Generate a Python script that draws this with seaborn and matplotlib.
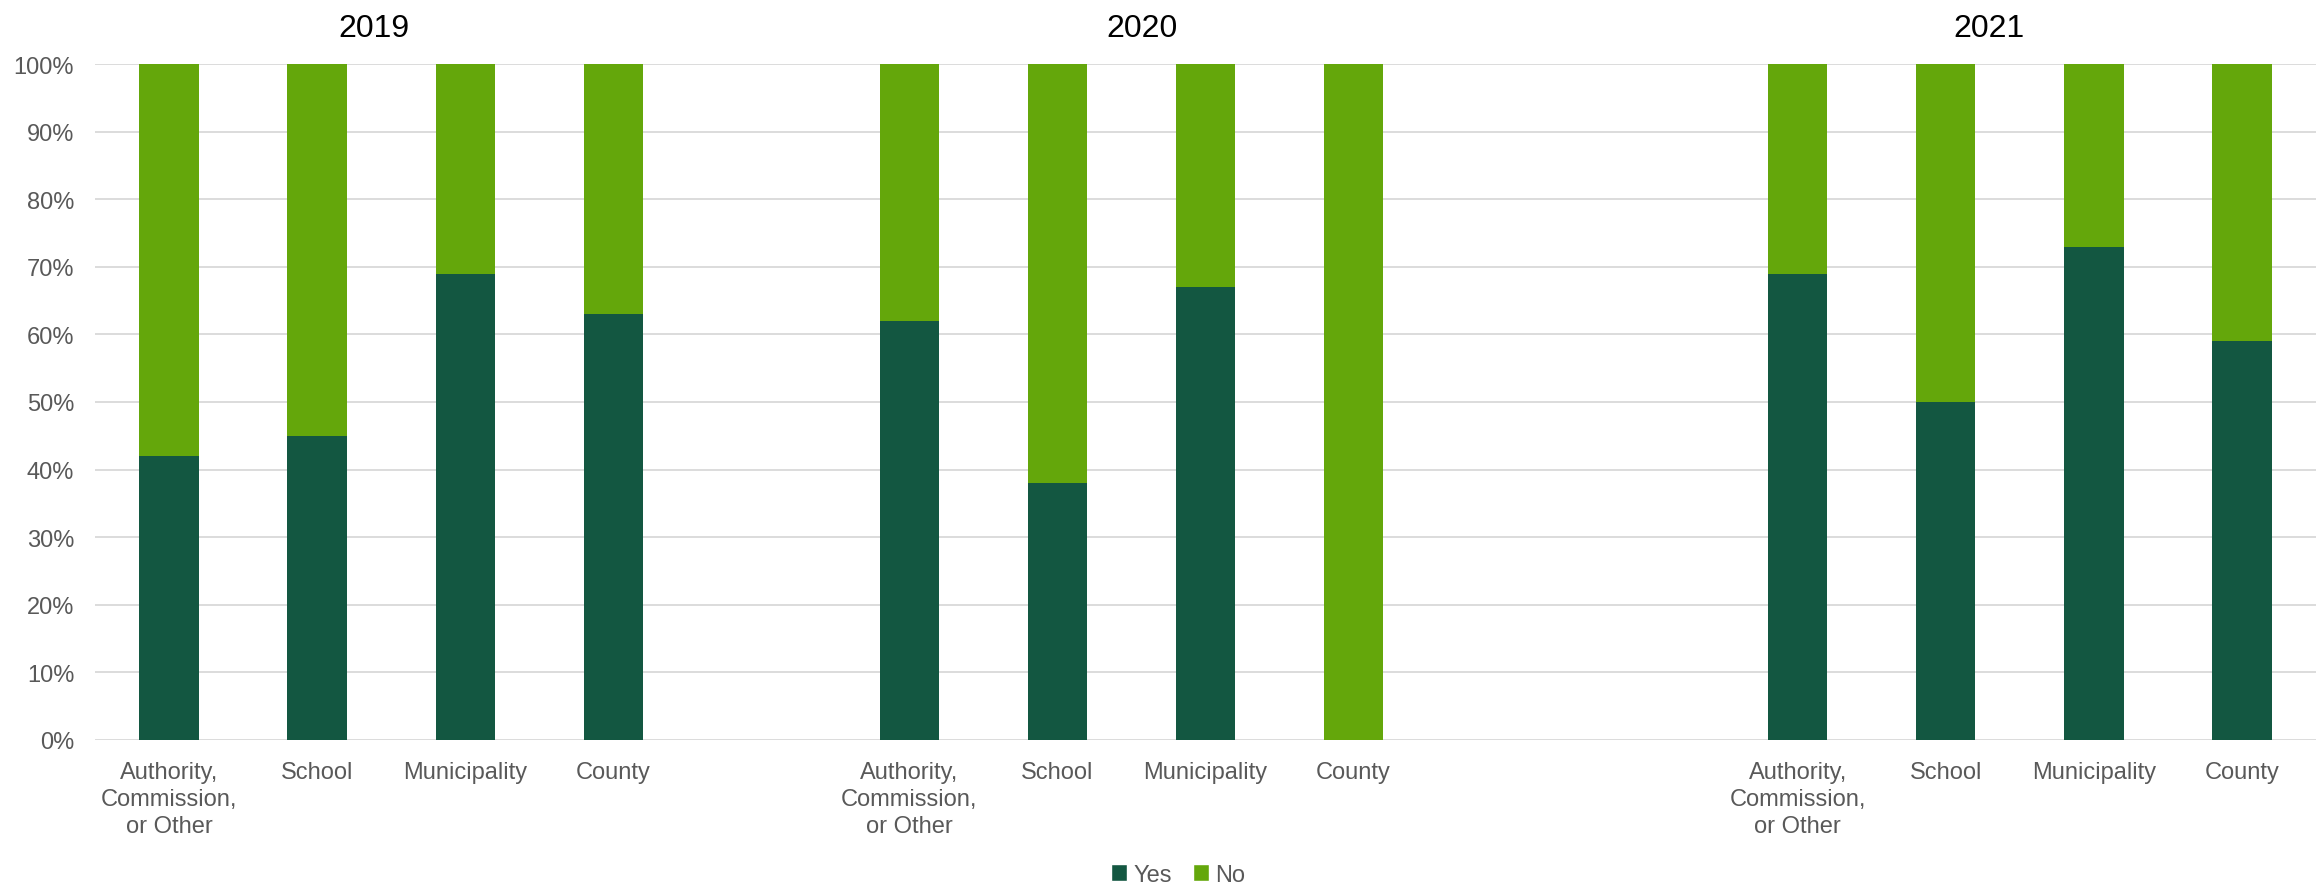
import matplotlib
matplotlib.use("Agg")
import matplotlib.pyplot as plt
import seaborn as sns
import pandas as pd
from matplotlib.patches import Patch

# ---- data ----
years = ["2019", "2020", "2021"]
categories = ["Authority,\nCommission,\nor Other", "School", "Municipality", "County"]
yes_2019 = [42, 45, 69, 63]
no_2019 = [58, 55, 31, 37]
yes_2020 = [62, 38, 67, 0]
no_2020 = [38, 62, 33, 100]
yes_2021 = [69, 50, 73, 59]
no_2021 = [31, 50, 27, 41]
# slot positions of the bars along the category axis (gaps between years)
slots_2019 = [0, 1, 2, 3]
slots_2020 = [5, 6, 7, 8]
slots_2021 = [11, 12, 13, 14]
ytick_vals = list(range(0, 101, 10))

DARK = "#135741"
LIGHT = "#64A70B"
TXT = "#595959"

rows = []
for yr, slots, ys, ns in [(years[0], slots_2019, yes_2019, no_2019),
                          (years[1], slots_2020, yes_2020, no_2020),
                          (years[2], slots_2021, yes_2021, no_2021)]:
    for s, c, y, n in zip(slots, categories, ys, ns):
        rows.append({"year": yr, "slot": s, "category": c, "Yes": y, "No": n})
df = pd.DataFrame(rows)
df["total"] = df["Yes"] + df["No"]

sns.set_theme(style="white")
plt.rcParams["font.family"] = ["Liberation Sans", "DejaVu Sans"]

fig = plt.figure(figsize=(23.23, 8.87), dpi=100)
ax = fig.add_axes([95 / 2323, (887 - 741) / 887, (2316 - 95) / 2323, (741 - 65) / 887])

# stacked: full (Yes+No) in light green, Yes on top in dark green
sns.barplot(data=df, x="slot", y="total", native_scale=True, color=LIGHT,
            saturation=1, width=0.4, ax=ax, errorbar=None, linewidth=0)
sns.barplot(data=df, x="slot", y="Yes", native_scale=True, color=DARK,
            saturation=1, width=0.4, ax=ax, errorbar=None, linewidth=0)

ax.set_xlim(-0.5, 14.5)
ax.set_ylim(0, 100)
ax.set_yticks(ytick_vals)
ax.set_yticklabels([f"{v}%" for v in ytick_vals])
ax.set_xticks(df["slot"].tolist())
ax.set_xticklabels(df["category"].tolist(), linespacing=1.3)
ax.set_xlabel("")
ax.set_ylabel("")
ax.grid(axis="y", color="#D9D9D9", linewidth=1.3)
ax.set_axisbelow(True)
for sp in ax.spines.values():
    sp.set_visible(False)
ax.tick_params(axis="both", length=0, labelsize=17, labelcolor=TXT)
ax.tick_params(axis="y", pad=15)
ax.tick_params(axis="x", pad=15)

# year titles
for yr, xp in zip(years, [374, 1142, 1989]):
    fig.text(xp / 2323, 1 - 29 / 887, yr, ha="center", va="center",
             fontsize=23, color="black")

handles = [Patch(facecolor=DARK, label="Yes"), Patch(facecolor=LIGHT, label="No")]
fig.legend(handles=handles, loc="center", bbox_to_anchor=(1178 / 2323, 1 - 876 / 887),
           ncol=2, frameon=False, fontsize=17, labelcolor=TXT,
           handlelength=0.7, handleheight=0.7, handletextpad=0.25, columnspacing=0.9)

fig.savefig("out.png", dpi=100)
